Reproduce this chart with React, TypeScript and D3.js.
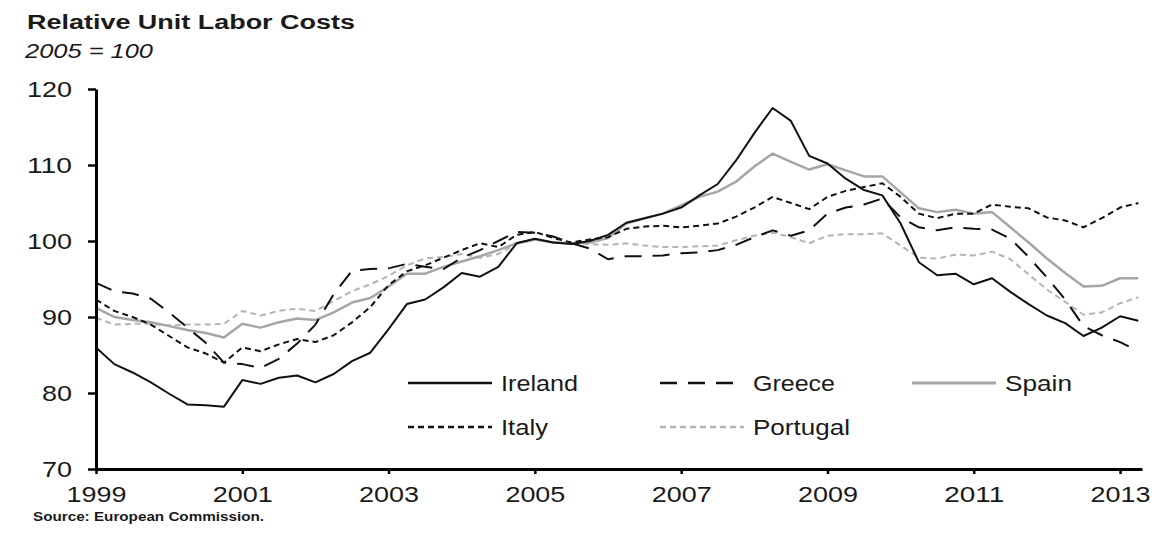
import React, { useEffect, useRef } from "react";
import * as d3 from "d3";

// quarterly series, 1999Q1 .. 2013Q2 (2005 = 100)
const startYear = 1999;

const ireland = [
  86.0, 83.8, 82.7, 81.4, 79.9, 78.5, 78.4, 78.2,
  81.7, 81.2, 82.0, 82.3, 81.4, 82.5, 84.2, 85.3,
  88.4, 91.7, 92.3, 93.9, 95.8, 95.3, 96.6, 99.7,
  100.3, 99.8, 99.6, 100.0, 100.8, 102.4, 103.0, 103.6,
  104.4, 106.0, 107.5, 110.6, 114.2, 117.5, 115.8, 111.2,
  110.2, 108.2, 106.7, 106.0, 102.3, 97.2, 95.5, 95.7,
  94.3, 95.1, 93.3, 91.7, 90.2, 89.2, 87.5, 88.6,
  90.1, 89.5,
];

const greece = [
  94.5, 93.4, 93.1, 92.4, 90.6, 88.6, 86.6, 84.0,
  83.8, 83.3, 84.5, 86.5, 89.0, 93.0, 96.1, 96.3,
  96.4, 97.0, 96.6, 96.3, 97.8, 98.8, 100.0, 101.2,
  101.1, 100.6, 99.7, 99.0, 97.6, 98.0, 98.0, 98.1,
  98.4, 98.5, 98.8, 99.5, 100.5, 101.4, 100.7, 101.4,
  103.6, 104.4, 104.8, 105.6, 103.1, 101.8, 101.4, 101.8,
  101.6, 101.5, 100.3, 97.9, 95.2, 92.3, 88.8, 87.6,
  86.7, 85.5,
];

const spain = [
  91.2, 90.0, 89.6, 89.3, 88.8, 88.3, 87.9, 87.3,
  89.1, 88.6, 89.3, 89.8, 89.6, 90.6, 91.9, 92.5,
  94.0, 95.7, 95.7, 96.6, 97.3, 98.0, 98.8, 99.7,
  100.2, 99.8, 99.7, 99.8, 100.4, 102.3, 103.0, 103.6,
  104.7, 105.8, 106.5, 107.8, 109.8, 111.5, 110.4, 109.4,
  110.1, 109.3, 108.5, 108.5, 106.4, 104.3, 103.8, 104.1,
  103.6, 103.8, 101.8, 99.8, 97.7, 95.8, 94.0, 94.1,
  95.1, 95.1,
];

const italy = [
  92.3, 90.8, 90.0, 89.0, 87.5, 86.0, 85.2, 84.0,
  86.0, 85.5, 86.4, 87.1, 86.7, 87.6, 89.3, 91.3,
  94.2, 96.0, 96.8, 97.8, 98.8, 99.7, 99.2, 100.8,
  101.2, 100.4, 99.8, 100.2, 100.5, 101.6, 101.9, 102.0,
  101.8, 102.0, 102.3, 103.2, 104.4, 105.8, 105.0, 104.2,
  105.8, 106.6, 107.1, 107.6, 105.8, 103.6, 103.0, 103.6,
  103.6, 104.8, 104.5, 104.3, 103.1, 102.7, 101.8, 103.0,
  104.4, 105.0,
];

const portugal = [
  89.9, 89.0, 89.1, 89.1, 88.9, 89.0, 89.0, 89.1,
  90.8, 90.2, 90.8, 91.1, 90.8, 92.1, 93.4, 94.3,
  95.4, 96.8, 97.7, 97.9, 98.3, 97.8, 98.3, 99.6,
  100.2, 99.9, 99.7, 99.6, 99.5, 99.7, 99.4, 99.2,
  99.2, 99.3, 99.4, 100.1, 100.7, 101.1, 100.5, 99.7,
  100.7, 100.9, 100.9, 101.0, 99.4, 97.8, 97.7, 98.2,
  98.1, 98.6, 97.6, 95.6, 93.6, 92.0, 90.3, 90.6,
  91.8, 92.6,
];

const yTicks = [70, 80, 90, 100, 110, 120];
const xTicks = [1999, 2001, 2003, 2005, 2007, 2009, 2011, 2013];

const series = [
  { name: "Portugal", values: portugal, color: "#b4b4b4", width: 2, dash: "6,4" },
  { name: "Spain", values: spain, color: "#a6a6a6", width: 2.5, dash: null },
  { name: "Italy", values: italy, color: "#111", width: 2, dash: "6,4" },
  { name: "Greece", values: greece, color: "#111", width: 2, dash: "17,11" },
  { name: "Ireland", values: ireland, color: "#111", width: 2, dash: null },
];

// legend slots: [series name, column, row]
const legendSlots: [string, number, number][] = [
  ["Ireland", 0, 0],
  ["Greece", 1, 0],
  ["Spain", 2, 0],
  ["Italy", 0, 1],
  ["Portugal", 1, 1],
];
const legendTextWidth: Record<string, number> = {
  Ireland: 77, Greece: 82, Spain: 67, Italy: 47, Portugal: 97,
};

const W = 1156;
const H = 533;
const FONT = "'Liberation Sans', Arial, sans-serif";
const INK = "#1a1a1a";

export default function App() {
  const axRef = useRef<SVGGElement>(null);

  const x = d3.scaleLinear().domain([1999, 2013.3]).range([96, 1142]);
  const y = d3.scaleLinear().domain([70, 120]).range([469, 89]);

  const line = d3
    .line<number>()
    .x((d, i) => x(startYear + i / 4))
    .y((d) => y(d));

  useEffect(() => {
    const g = d3.select(axRef.current);
    g.selectAll("*").remove();

    const yAxis = g
      .append("g")
      .attr("transform", `translate(${x(1999)},0)`)
      .call(d3.axisLeft(y).tickValues(yTicks).tickSize(8).tickSizeOuter(0).tickPadding(16));
    const xAxis = g
      .append("g")
      .attr("transform", `translate(0,${y(70)})`)
      .call(
        d3.axisBottom(x).tickValues(xTicks).tickSize(5).tickSizeOuter(0).tickPadding(12)
          .tickFormat(d3.format("d"))
      );

    [yAxis, xAxis].forEach((a) => {
      a.select(".domain").attr("stroke", "#000").attr("stroke-width", 3);
      a.selectAll(".tick line").attr("stroke", "#000").attr("stroke-width", 2.5);
      a.selectAll(".tick text")
        .attr("fill", INK)
        .attr("font-family", FONT)
        .attr("font-size", 22)
        .attr("lengthAdjust", "spacingAndGlyphs");
    });
    yAxis.selectAll<SVGTextElement, number>(".tick text")
      .attr("textLength", (d) => String(d).length * 15);
    xAxis.selectAll(".tick text").attr("textLength", 60);
  }, []);

  return (
    <svg
      width={W}
      height={H}
      style={{ position: "absolute", left: 0, top: 0, background: "#fff" }}
    >
      <text x={27} y={29} fontFamily={FONT} fontSize={20} fontWeight="bold" fill={INK}
        textLength={328} lengthAdjust="spacingAndGlyphs">
        Relative Unit Labor Costs
      </text>
      <text x={25} y={58} fontFamily={FONT} fontSize={21} fontStyle="italic" fill={INK}
        textLength={128} lengthAdjust="spacingAndGlyphs">
        2005 = 100
      </text>

      {series.map((s) => (
        <path
          key={s.name}
          d={line(s.values) ?? ""}
          fill="none"
          stroke={s.color}
          strokeWidth={s.width}
          strokeDasharray={s.dash ?? undefined}
          strokeLinejoin="round"
        />
      ))}

      <g ref={axRef} />

      {legendSlots.map(([name, col, row]) => {
        const s = series.find((d) => d.name === name)!;
        const lx = 408 + col * 252;
        const ly = 383 + row * 44;
        return (
          <g key={name}>
            <line x1={lx} x2={lx + 84} y1={ly} y2={ly} stroke={s.color}
              strokeWidth={s.width + 0.5} strokeDasharray={s.dash ?? undefined} />
            <text x={lx + 93} y={ly + 8} fontFamily={FONT} fontSize={22} fill={INK}
              textLength={legendTextWidth[name]} lengthAdjust="spacingAndGlyphs">
              {name}
            </text>
          </g>
        );
      })}

      <text x={33} y={521} fontFamily={FONT} fontSize={12} fontWeight="bold" fill={INK}
        textLength={231} lengthAdjust="spacingAndGlyphs">
        Source: European Commission.
      </text>
    </svg>
  );
}
